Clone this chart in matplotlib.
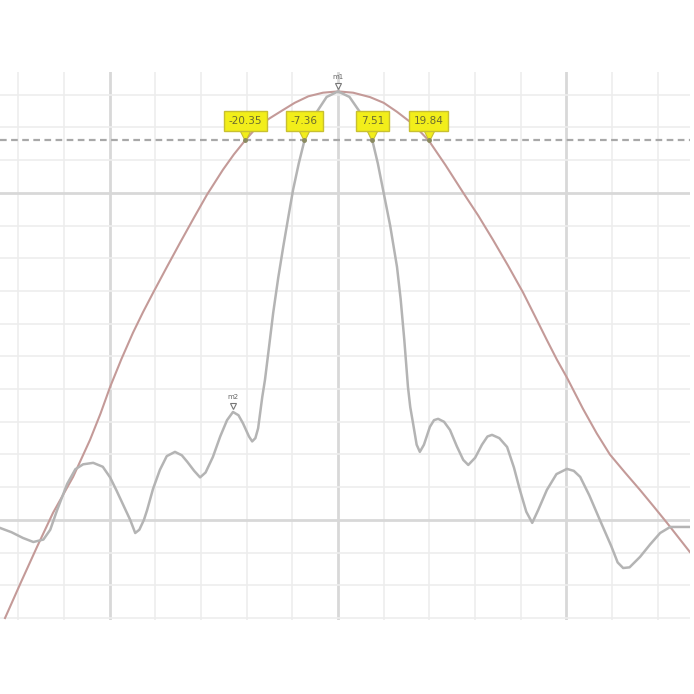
import matplotlib
matplotlib.use("Agg")
import matplotlib.pyplot as plt
import numpy as np

# Wide beam (reddish trace): angle (deg), level (dB)
wide_angle = [-72.9, -69.4, -65.9, -62.4, -58.0, -54.3, -52.0, -49.9, -47.4, -44.9,
              -42.7, -40.5, -37.5, -34.6, -31.6, -28.7, -25.2, -22.8, -20.35, -17.7,
              -15.0, -12.7, -9.5, -6.5, -3.3, 0.0, 3.3, 7.0, 10.0, 12.9,
              16.4, 19.84, 23.5, 27.4, 30.7, 33.9, 37.2, 40.5, 43.2, 45.7,
              47.9, 50.1, 53.6, 56.6, 59.5, 62.8, 66.1, 69.0, 72.0, 77.0]
wide_level = [-6.0, -3.8, -1.65, 0.43, 2.63, 4.89, 6.5, 8.13, 9.85, 11.44,
              12.7, 13.88, 15.45, 16.94, 18.45, 19.88, 21.41, 22.35, 23.2, 24.04,
              24.55, 24.95, 25.5, 25.9, 26.12, 26.2, 26.12, 25.85, 25.5, 24.95,
              24.2, 23.2, 21.7, 20.0, 18.6, 17.13, 15.55, 13.9, 12.4, 11.0,
              9.8, 8.7, 6.8, 5.3, 4.0, 2.9, 1.83, 0.85, -0.18, -1.96]

# Narrow beam with side lobes (gray trace)
narrow_angle = [-74.0, -71.5, -69.0, -66.7, -64.5, -63.0, -61.5, -59.3, -57.5, -55.8,
                -53.6, -51.5, -49.9, -48.5, -47.0, -45.5, -44.4, -43.5, -42.5, -41.8,
                -40.5, -39.0, -37.5, -35.7, -34.2, -33.0, -31.5, -30.2, -29.0, -27.4,
                -25.8, -24.3, -23.0, -21.8, -20.8, -19.5, -18.8, -18.1, -17.5, -16.6,
                -16.0, -15.1, -14.2, -13.1, -12.0, -10.9, -9.85, -8.6, -7.36, -5.0,
                -2.5, 0.0, 2.5, 5.0, 7.51, 8.7, 9.85, 11.4, 12.9, 13.7,
                14.5, 15.3, 15.8, 16.4, 17.2, 17.9, 18.8, 20.1, 21.0, 21.9,
                23.2, 24.5, 26.0, 27.4, 28.5, 30.0, 31.5, 32.7, 33.7, 35.3,
                37.0, 38.5, 39.8, 41.2, 42.5, 43.8, 45.7, 47.8, 50.1, 51.6,
                53.0, 55.0, 57.3, 59.8, 61.2, 62.4, 63.8, 66.1, 68.3, 70.5,
                72.7, 77.0]
narrow_level = [-0.49, -0.75, -1.1, -1.35, -1.2, -0.6, 0.6, 2.2, 3.1, 3.4,
                3.49, 3.25, 2.6, 1.8, 0.9, 0.0, -0.8, -0.6, 0.0, 0.6,
                1.9, 3.06, 3.9, 4.16, 3.95, 3.55, 3.0, 2.6, 2.9, 3.85,
                5.1, 6.1, 6.6, 6.4, 5.9, 5.1, 4.8, 5.0, 5.6, 7.5,
                8.56, 10.6, 12.66, 14.8, 16.70, 18.5, 20.18, 21.8, 23.2, 24.8,
                25.86, 26.2, 25.86, 24.85, 23.2, 21.8, 20.18, 18.0, 15.47, 13.5,
                11.0, 8.13, 6.9, 5.93, 4.6, 4.16, 4.6, 5.69, 6.1, 6.18,
                6.0, 5.50, 4.5, 3.67, 3.36, 3.8, 4.6, 5.1, 5.20, 5.0,
                4.46, 3.2, 1.83, 0.5, -0.18, 0.6, 1.83, 2.8, 3.12, 3.0,
                2.63, 1.5, 0.0, -1.6, -2.6, -2.94, -2.9, -2.26, -1.5, -0.80,
                -0.43, -0.43]

# -3 dB marker readouts
marker_angles = [-20.35, -7.36, 7.51, 19.84]
marker_labels = ["-20.35", "-7.36", "7.51", "19.84"]
peak_level = 26.2
half_power = peak_level - 3.0

fig = plt.figure(figsize=(6.94, 6.94), dpi=100)
ax = fig.add_axes([0.0, 0.1066, 0.994, 0.790])
ax.set_xlim(-74.0, 77.0)
ax.set_ylim(-6.12, 27.4)

ax.set_xticks([-50, 0, 50])
ax.set_xticks(np.arange(-70, 80, 10), minor=True)
ax.set_yticks([0, 20])
ax.set_yticks(np.arange(-6, 28, 2), minor=True)
ax.grid(which="minor", color="#ededed", lw=1.2)
ax.grid(which="major", color="#d8d8d8", lw=2.0)
ax.tick_params(which="both", length=0, labelbottom=False, labelleft=False)
for s in ax.spines.values():
    s.set_visible(False)
ax.set_axisbelow(True)

ax.axhline(half_power, color="#a8a8a8", lw=1.6, ls=(0, (3, 2)), zorder=2)

ax.plot(wide_angle, wide_level, color="#c49a98", lw=1.5, zorder=3,
        solid_joinstyle="round")
ax.plot(narrow_angle, narrow_level, color="#b4b4b4", lw=1.8, zorder=3,
        solid_joinstyle="round")

label_level = 24.4
ptr_level = 23.55
for a, lab in zip(marker_angles, marker_labels):
    ax.plot([a], [ptr_level], marker="v", ms=9, mfc="#f2ee1a", mec="#c8c030",
            mew=0.8, zorder=5)
    ax.text(a, label_level, lab, ha="center", va="center", fontsize=7.5,
            color="#6a6a30", zorder=6,
            bbox=dict(boxstyle="square,pad=0.45", fc="#f2ee1a", ec="#c8c030", lw=1.0))
    ax.plot([a], [half_power], marker="o", ms=2.5, color="#8a8a60", zorder=6)

# peak marker m1 and side-lobe marker m2
ax.text(0.0, 27.1, "m1", ha="center", va="center", fontsize=5, color="#666666", zorder=6)
ax.plot([0.0], [26.5], marker="v", ms=5, mfc="white", mec="#777777", mew=0.8, zorder=6)
ax.text(-23.0, 7.5, "m2", ha="center", va="center", fontsize=5, color="#666666", zorder=6)
ax.plot([-23.0], [6.95], marker="v", ms=5, mfc="white", mec="#777777", mew=0.8, zorder=6)

fig.savefig("out.png", dpi=100, facecolor="white")
